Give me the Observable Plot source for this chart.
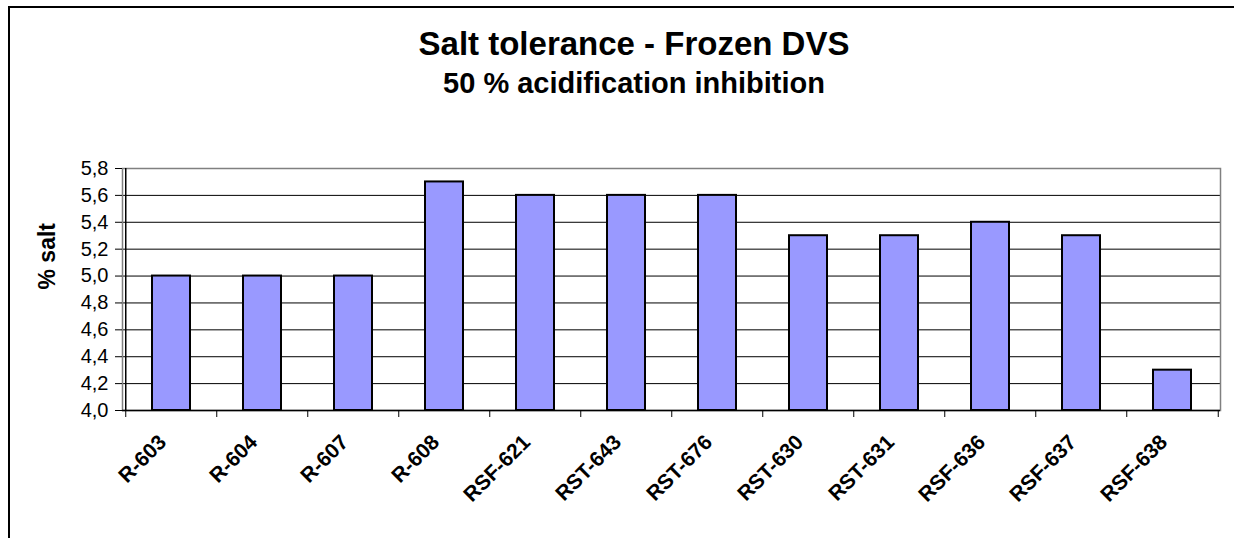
<!DOCTYPE html>
<html>
<head>
<meta charset="utf-8">
<script src="https://cdn.jsdelivr.net/npm/d3@7"></script>
<script src="https://cdn.jsdelivr.net/npm/@observablehq/plot@0.6"></script>
<style>
  html, body { margin: 0; padding: 0; background: #fff; }
  #wrap { position: relative; width: 1234px; height: 538px; overflow: hidden; font-family: "Liberation Sans", Arial, sans-serif; }
  #box { position: absolute; left: 8px; top: 6px; width: 1300px; height: 600px; border-left: 2px solid #000; border-top: 2px solid #000; box-sizing: border-box; }
  .t { position: absolute; left: 0; width: 1268px; text-align: center; font-weight: bold; color: #000; white-space: nowrap; }
  #title { top: 27px; font-size: 33px; line-height: 33px; }
  #subtitle { top: 69px; font-size: 29px; line-height: 29px; }
  #chart { position: absolute; left: 0; top: 0; }
</style>
</head>
<body>
<div id="wrap">
  <div id="box"></div>
  <div id="chart"></div>
  <div class="t" id="title"></div>
  <div class="t" id="subtitle"></div>
</div>
<script>
const titleText = "Salt tolerance - Frozen DVS";
const subtitleText = "50 % acidification inhibition";
const yLabel = "% salt";
const categories = ["R-603", "R-604", "R-607", "R-608", "RSF-621", "RST-643", "RST-676", "RST-630", "RST-631", "RSF-636", "RSF-637", "RSF-638"];
const values = [5.0, 5.0, 5.0, 5.7, 5.6, 5.6, 5.6, 5.3, 5.3, 5.4, 5.3, 4.3];
const yTicks = [4.0, 4.2, 4.4, 4.6, 4.8, 5.0, 5.2, 5.4, 5.6, 5.8];
const yMin = 4.0, yMax = 5.8;

document.getElementById("title").textContent = titleText;
document.getElementById("subtitle").textContent = subtitleText;

const data = categories.map((c, i) => ({cat: c, value: values[i]}));
const W = 1234, H = 538, mL = 122, mR = 14, mT = 168, mB = 128;
const step = (W - mL - mR) / categories.length;
const fmt = d => d3.format(".1f")(d).replace(".", ",");

const chart = Plot.plot({
  width: W, height: H,
  marginLeft: mL, marginRight: mR, marginTop: mT, marginBottom: mB,
  style: {fontFamily: '"Liberation Sans", Arial, sans-serif', fontSize: "20px", background: "transparent", color: "#000"},
  x: {domain: categories, paddingInner: 0.585, paddingOuter: 0.2925, axis: null},
  y: {domain: [yMin, yMax], axis: null},
  marks: [
    Plot.ruleY(yTicks.filter(t => t < yMax), {stroke: "#000", strokeWidth: 1}),
    Plot.frame({stroke: "#808080", strokeWidth: 1.5}),
    Plot.barY(data, {x: "cat", y1: yMin, y2: "value", fill: "#9999FF", stroke: "#000", strokeWidth: 2}),
    Plot.ruleY([yMin], {stroke: "#000", strokeWidth: 1.5}),
    Plot.ruleX([categories[0]], {x: d => d, dx: -step / 2, stroke: "#000", strokeWidth: 1.5}),
    Plot.ruleX(categories, {x: d => d, dx: -step / 2, y1: yMin, y2: yMin, insetBottom: -7, stroke: "#000", strokeWidth: 1}),
    Plot.ruleX([categories[categories.length - 1]], {x: d => d, dx: step / 2, y1: yMin, y2: yMin, insetBottom: -7, stroke: "#000", strokeWidth: 1}),
    Plot.axisY({ticks: yTicks, tickFormat: fmt, tickSize: 7, tickPadding: 7, fontSize: 20, label: null}),
    Plot.text(categories, {x: d => d, frameAnchor: "bottom", rotate: -45, textAnchor: "end", lineAnchor: "bottom", dx: -4, dy: 33, fontSize: 21, fontWeight: "bold"}),
    Plot.text([yLabel], {frameAnchor: "left", rotate: -90, dx: -75, fontSize: 23, fontWeight: "bold"})
  ]
});
document.getElementById("chart").appendChild(chart);
</script>
</body>
</html>
